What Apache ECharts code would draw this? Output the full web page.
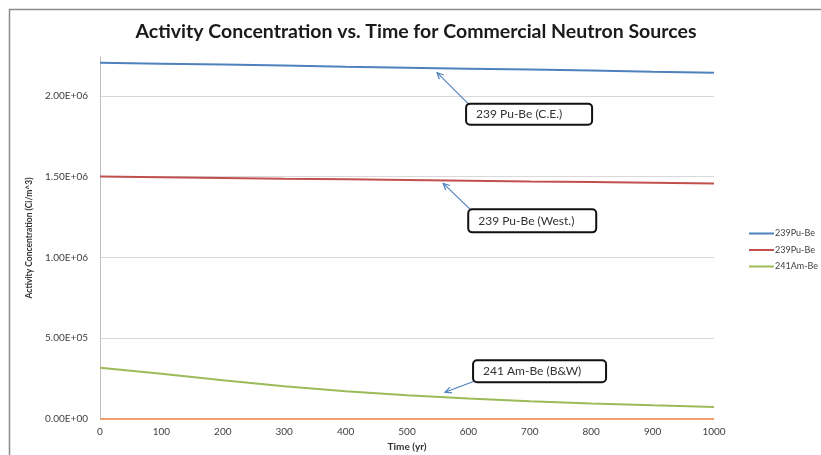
<!DOCTYPE html>
<html><head><meta charset="utf-8">
<script src="https://cdn.jsdelivr.net/npm/echarts@6/dist/echarts.min.js"></script>
<style>html,body{margin:0;padding:0;background:#fff}#c{width:821px;height:455px}</style>
</head><body><div id="c"></div>
<script>
const years = [0,100,200,300,400,500,600,700,800,900,1000];
const puCE   = [2205000,2199000,2193000,2187000,2180000,2174000,2168000,2162000,2156000,2149000,2143000];
const puWest = [1500000,1496000,1492000,1487000,1483000,1479000,1475000,1470000,1466000,1462000,1458000];
const amBW   = [317000,280000,240000,203000,172000,147000,127000,110000,96000,85000,75000];
const zeroSeries = [0,0,0,0,0,0,0,0,0,0,0];
const legendNames = ['239Pu-Be','239Pu-Be ','241Am-Be'];
const yTicks = [0,500000,1000000,1500000,2000000];
const annLabels = ['239 Pu-Be (C.E.)','239 Pu-Be (West.)','241 Am-Be (B&W)'];
const annYear = [549,559,562];
const annSeriesIdx = [0,1,2];

const font = 'Lato, "Open Sans", sans-serif';
function sci(v){
  if(v===0) return '0.00E+00';
  let e = Math.floor(Math.log10(Math.abs(v)));
  let m = v/Math.pow(10,e);
  return m.toFixed(2)+'E'+(e>=0?'+':'-')+String(Math.abs(e)).padStart(2,'0');
}
const chart = echarts.init(document.getElementById('c'));
const mk = (name,data,color,z)=>({name, type:'line', data: years.map((x,i)=>[x,data[i]]), symbol:'none', showSymbol:false,
  lineStyle:{color, width:2}, itemStyle:{color}, z:z||2, animation:false});
chart.setOption({
  animation:false,
  title:{text:'Activity Concentration vs. Time for Commercial Neutron Sources', left:411, top:17, textAlign:'center',
    textStyle:{fontFamily:font, fontWeight:'bold', fontSize:19.5, color:'#1a1a1a'}},
  grid:{left:100, right:107, top:57, bottom:36, containLabel:false, outerBoundsMode:'none'},
  legend:{orient:'vertical', left:744, top:224, itemWidth:25, itemHeight:2, itemGap:7.5, icon:'rect', data:legendNames,
    textStyle:{fontFamily:font, fontSize:9, color:'#404040', padding:[0,0,0,-4]}},
  xAxis:{type:'value', min:0, max:1000, interval:100,
    name:'Time (yr)', nameLocation:'middle', nameGap:18,
    nameTextStyle:{fontFamily:font, fontWeight:'bold', fontSize:10, color:'#333'},
    axisLine:{show:false}, axisTick:{show:false}, splitLine:{show:false},
    axisLabel:{fontFamily:font, fontSize:10, color:'#404040', margin:8, formatter:v=>String(v)}},
  yAxis:{type:'value', min:0, max:2240000, interval:500000,
    name:'Activity Concentration (Ci/m^3)', nameLocation:'middle', nameGap:66, nameRotate:90,
    nameTextStyle:{fontFamily:font, fontWeight:'bold', fontSize:8.5, color:'#333'},
    axisLine:{show:true, lineStyle:{color:'#bfbfbf', width:1}}, axisTick:{show:false},
    splitLine:{show:true, showMaxLine:false, lineStyle:{color:'#d9d9d9', width:1}},
    axisLabel:{fontFamily:font, fontSize:10, color:'#404040', margin:12, showMaxLabel:false,
      formatter:v=> yTicks.indexOf(v)>=0 ? sci(v) : ''}},
  series:[
    mk(legendNames[0], puCE, '#4F81BD'),
    mk(legendNames[1], puWest, '#C0504D'),
    mk(legendNames[2], amBW, '#9BBB59'),
    mk('zero', zeroSeries, '#F0A070', 1)
  ]
});
const seriesData = [puCE, puWest, amBW];
const tipDy = [4.5, 3, -5];
const boxOff = [[29,31,126,21],[25,26,128,23],[28,-32,133,22]];
const fromCorner = ['tl','tl','bl'];
const gfx = [
  {type:'rect', shape:{x:9.5,y:9.5,width:830,height:460}, style:{fill:'none', stroke:'#8c8c8c', lineWidth:1.5}, silent:true}
];
annLabels.forEach((lab,i)=>{
  const data = seriesData[annSeriesIdx[i]];
  let k = Math.min(Math.floor(annYear[i]/100), years.length-2);
  let f = (annYear[i]-years[k])/(years[k+1]-years[k]);
  let val = data[k]+(data[k+1]-data[k])*f;
  const p = chart.convertToPixel({gridIndex:0},[annYear[i], val]);
  const tip = [p[0], p[1]+tipDy[i]];
  const [dx,dy,w,h] = boxOff[i];
  const bx = tip[0]+dx, by = tip[1]+dy;
  const from = fromCorner[i]==='tl' ? [bx+2, by] : [bx+1, by+h-1];
  const ang = Math.atan2(from[1]-tip[1], from[0]-tip[0]);
  const L=7, a=0.45;
  const h1=[tip[0]+L*Math.cos(ang+a), tip[1]+L*Math.sin(ang+a)];
  const h2=[tip[0]+L*Math.cos(ang-a), tip[1]+L*Math.sin(ang-a)];
  gfx.push({type:'line', shape:{x1:from[0],y1:from[1],x2:tip[0],y2:tip[1]}, style:{stroke:'#4F81BD', lineWidth:1.2}, z:10});
  gfx.push({type:'polyline', shape:{points:[h1,tip,h2]}, style:{stroke:'#4F81BD', lineWidth:1.2, fill:'none'}, z:10});
  gfx.push({type:'rect', shape:{x:bx,y:by,width:w,height:h,r:4}, style:{fill:'#fff', stroke:'#111', lineWidth:2}, z:11});
  gfx.push({type:'text', x:bx+10, y:by+h/2, style:{text:lab, font:'12px '+font, fill:'#333', textVerticalAlign:'middle', verticalAlign:'middle'}, z:12});
});
chart.setOption({graphic:gfx});
</script>
</body></html>
